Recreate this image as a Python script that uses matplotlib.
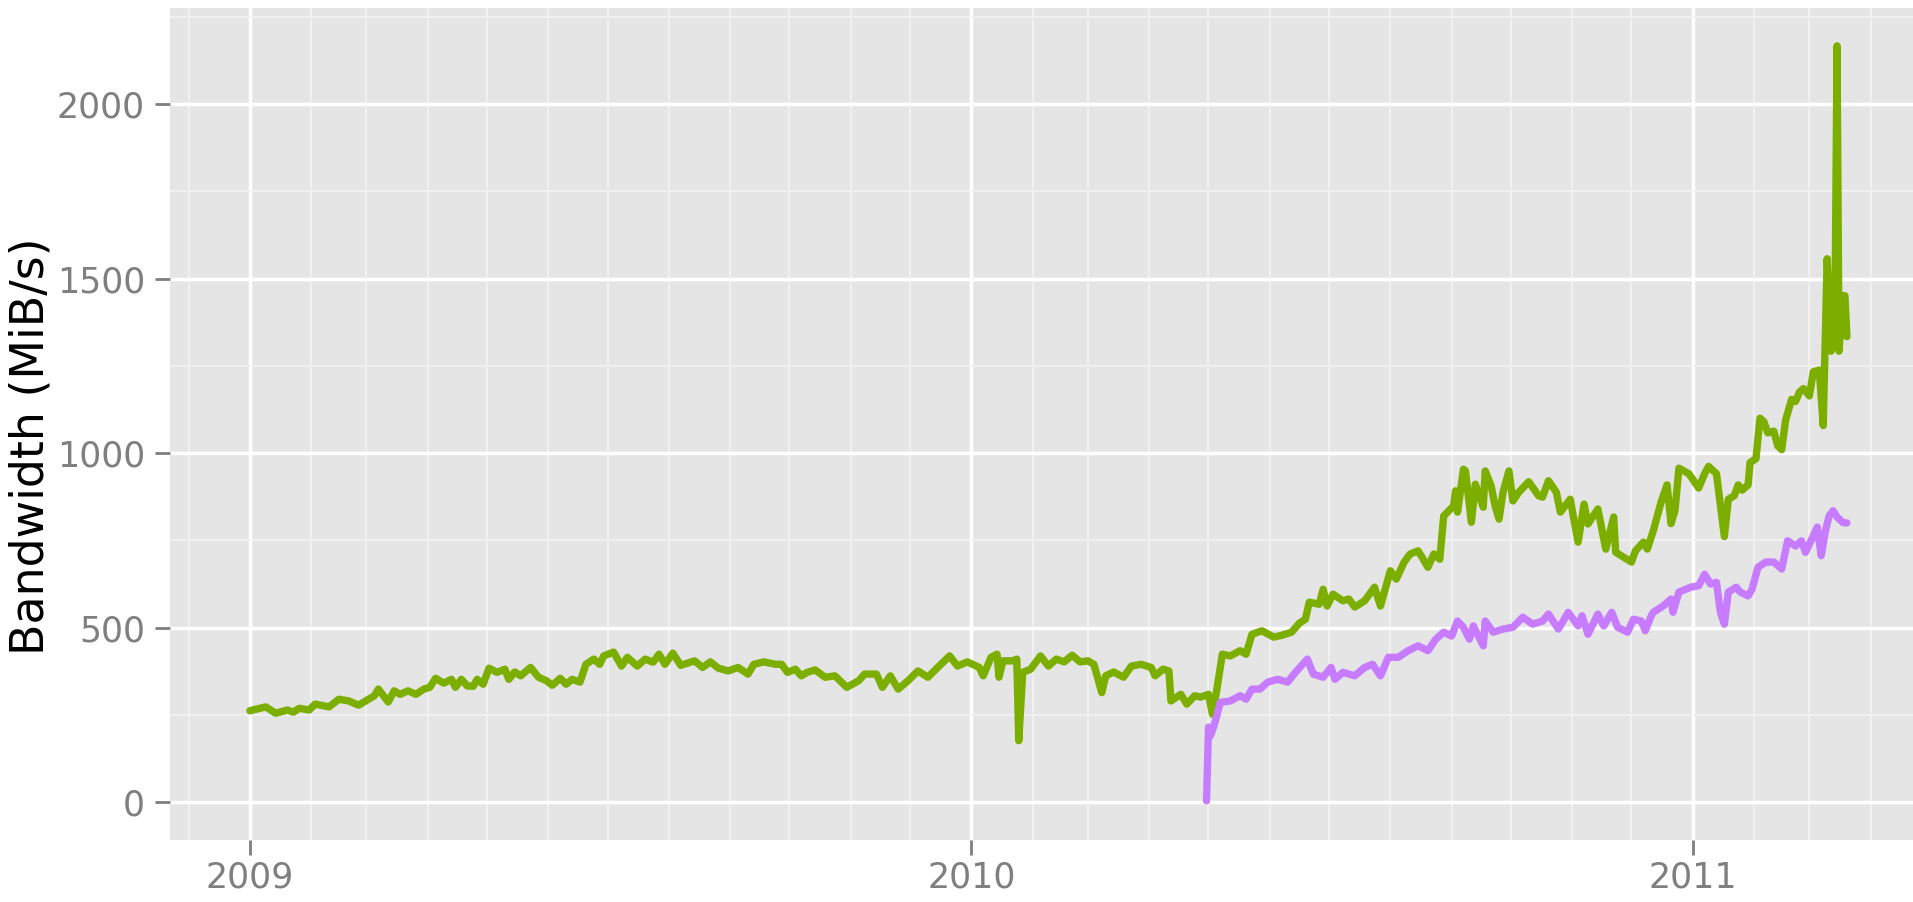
import numpy as np
import matplotlib
matplotlib.use("Agg")
import matplotlib.pyplot as plt
import matplotlib.dates as mdates

# Daily bandwidth readings, given as days since the start date
start_date = np.datetime64("2009-01-01")

green_day = [0, 8, 13, 19, 22, 25, 30, 33, 40, 45, 50, 55, 60, 63, 65, 70, 73, 76, 80, 84,
             88, 91, 94, 98, 102, 104, 107, 110, 113, 115, 118, 121, 125, 129, 131, 134, 137,
             142, 146, 150, 153, 157, 160, 163, 167, 170, 174, 177, 179, 184, 188, 191, 196,
             200, 204, 207, 210, 214, 218, 225, 229, 233, 237, 242, 247, 252, 255, 260, 266,
             269, 272, 276, 279, 282, 286, 291, 296, 302, 308, 311, 317, 320, 324, 328, 333,
             338, 343, 348, 354, 358, 363, 369, 371, 375, 378, 379, 381, 386, 388, 389, 391,
             395, 400, 404, 408, 412, 416, 420, 424, 427, 431, 433, 437, 442, 446, 451, 456,
             458, 462, 465, 466, 471, 474, 478, 481, 485, 487, 489, 492, 496, 501, 504, 507,
             512, 518, 522, 527, 531, 534, 536, 541, 543, 545, 548, 553, 556, 559, 564, 569,
             572, 577, 580, 584, 587, 591, 593, 596, 599, 602, 604, 609, 610, 611, 614, 615,
             618, 620, 624, 625, 628, 630, 632, 634, 637, 639, 642, 647, 652, 654, 657, 661,
             663, 668, 672, 675, 677, 682, 686, 690, 691, 695, 699, 701, 705, 707, 710, 714,
             717, 719, 721, 723, 728, 730, 733, 736, 738, 742, 746, 748, 751, 753, 755, 758,
             759, 762, 764, 766, 768, 771, 773, 775, 777, 780, 782, 784, 786, 789, 791, 794,
             796, 797, 798, 800, 801, 802, 803, 804, 806, 807, 808]
green_bw = [262, 273, 255, 264, 258, 269, 264, 281, 273, 295, 290, 278, 295, 305, 324, 287,
            319, 309, 319, 309, 324, 329, 355, 341, 352, 329, 352, 333, 332, 352, 338, 384,
            372, 381, 352, 373, 362, 386, 358, 348, 335, 355, 338, 352, 344, 395, 410, 395,
            419, 430, 390, 415, 390, 410, 401, 424, 395, 427, 392, 405, 386, 402, 384, 376,
            386, 367, 395, 402, 395, 395, 372, 381, 362, 372, 379, 358, 362, 329, 348, 367,
            367, 329, 362, 324, 348, 376, 358, 386, 419, 390, 402, 386, 362, 415, 424, 358,
            405, 405, 410, 176, 372, 381, 419, 390, 410, 402, 421, 402, 405, 395, 314, 362,
            373, 358, 390, 395, 386, 362, 381, 376, 290, 309, 281, 305, 301, 309, 252, 315,
            424, 419, 434, 424, 481, 491, 473, 478, 487, 513, 524, 573, 567, 610, 562, 596,
            577, 582, 559, 577, 616, 562, 663, 639, 688, 711, 720, 702, 673, 711, 696, 820,
            849, 892, 831, 954, 949, 802, 911, 845, 949, 906, 849, 811, 888, 949, 863, 888,
            918, 878, 874, 921, 888, 831, 868, 745, 854, 797, 840, 725, 817, 716, 702, 688,
            720, 745, 725, 777, 860, 909, 798, 835, 957, 941, 925, 900, 941, 962, 941, 761,
            868, 878, 909, 894, 909, 973, 984, 1100, 1090, 1058, 1063, 1021, 1010, 1095,
            1154, 1148, 1175, 1185, 1164, 1233, 1238, 1079, 1313, 1557, 1292, 1345, 1430,
            2167, 1292, 1451, 1451, 1334]

purple_day = [484, 485, 486, 488, 491, 496, 501, 504, 507, 511, 515, 520, 525, 529, 535, 538,
              543, 547, 549, 553, 559, 564, 568, 572, 576, 581, 586, 591, 596, 600, 604, 608,
              611, 614, 617, 619, 624, 625, 629, 634, 639, 644, 649, 654, 657, 662, 667, 672,
              674, 677, 682, 685, 689, 692, 697, 700, 704, 706, 709, 710, 715, 719, 720, 723,
              729, 733, 736, 739, 742, 744, 746, 748, 752, 754, 758, 760, 763, 767, 771, 775,
              778, 782, 785, 787, 791, 793, 795, 797, 799, 801, 803, 806, 808]
purple_bw = [4, 215, 190, 223, 286, 290, 305, 295, 324, 324, 344, 352, 344, 372, 410, 367,
             358, 386, 352, 372, 362, 386, 395, 362, 415, 415, 434, 448, 434, 467, 487, 476,
             519, 501, 467, 505, 448, 519, 487, 496, 501, 530, 510, 519, 539, 496, 544, 505,
             534, 481, 539, 505, 544, 501, 487, 524, 519, 491, 534, 544, 562, 582, 544, 602,
             616, 620, 653, 625, 630, 544, 510, 602, 616, 602, 591, 610, 673, 688, 688, 668,
             749, 734, 749, 716, 763, 788, 706, 774, 820, 835, 817, 801, 800]

y_ticks = [0, 500, 1000, 1500, 2000]
y_minor = [250, 750, 1250, 1750, 2250]
y_label = "Bandwidth (MiB/s)"

GREEN = "#7CAE00"
PURPLE = "#C77CFF"
PANEL = "#E5E5E5"
TEXT_GREY = "#7F7F7F"

green_dates = start_date + np.array(green_day).astype("timedelta64[D]")
purple_dates = start_date + np.array(purple_day).astype("timedelta64[D]")

W, H = 1913, 902
fig = plt.figure(figsize=(W / 100, H / 100), dpi=100)
fig.patch.set_facecolor("white")

# panel placement in pixels
left_px, bottom_px, top_px = 170, 840, 8
span_days = 808 * 1.1
px_per_day = 1.9766
width_px = span_days * px_per_day
ax = fig.add_axes([left_px / W, (H - bottom_px) / H, width_px / W, (bottom_px - top_px) / H])
ax.set_facecolor(PANEL)
for s in ax.spines.values():
    s.set_visible(False)

ax.plot(green_dates, green_bw, color=GREEN, lw=5.3, solid_capstyle="round",
        solid_joinstyle="round", zorder=3)
ax.plot(purple_dates, purple_bw, color=PURPLE, lw=5.3, solid_capstyle="round",
        solid_joinstyle="round", zorder=4)

# ggplot-like expansion of 5% on both axes
pad_days = np.timedelta64(int(round(808 * 0.05 * 24)), "h")
ax.set_xlim(start_date - pad_days, start_date + np.timedelta64(808, "D") + pad_days)
ymax = max(green_bw)
ax.set_ylim(-0.05 * ymax, 1.05 * ymax)

ax.xaxis.set_major_locator(mdates.YearLocator())
ax.xaxis.set_major_formatter(mdates.DateFormatter("%Y"))
ax.xaxis.set_minor_locator(mdates.MonthLocator())
ax.set_yticks(y_ticks)
ax.set_yticks(y_minor, minor=True)

ax.set_axisbelow(True)
ax.grid(which="major", color="white", lw=2.5)
ax.grid(which="minor", color="#F2F2F2", lw=1.3)

ax.tick_params(which="major", length=11, width=2.0, color=TEXT_GREY,
               labelcolor=TEXT_GREY, labelsize=25)
ax.tick_params(axis="y", which="major", pad=7)
ax.tick_params(axis="x", which="major", pad=4)
ax.tick_params(which="minor", length=0)

ax.set_ylabel(y_label, fontsize=33, color="black", va="center", ha="center")
ax.yaxis.set_label_coords((31 - left_px) / width_px, (bottom_px - 446) / (bottom_px - top_px))

fig.savefig("out.png", dpi=100, facecolor="white")
